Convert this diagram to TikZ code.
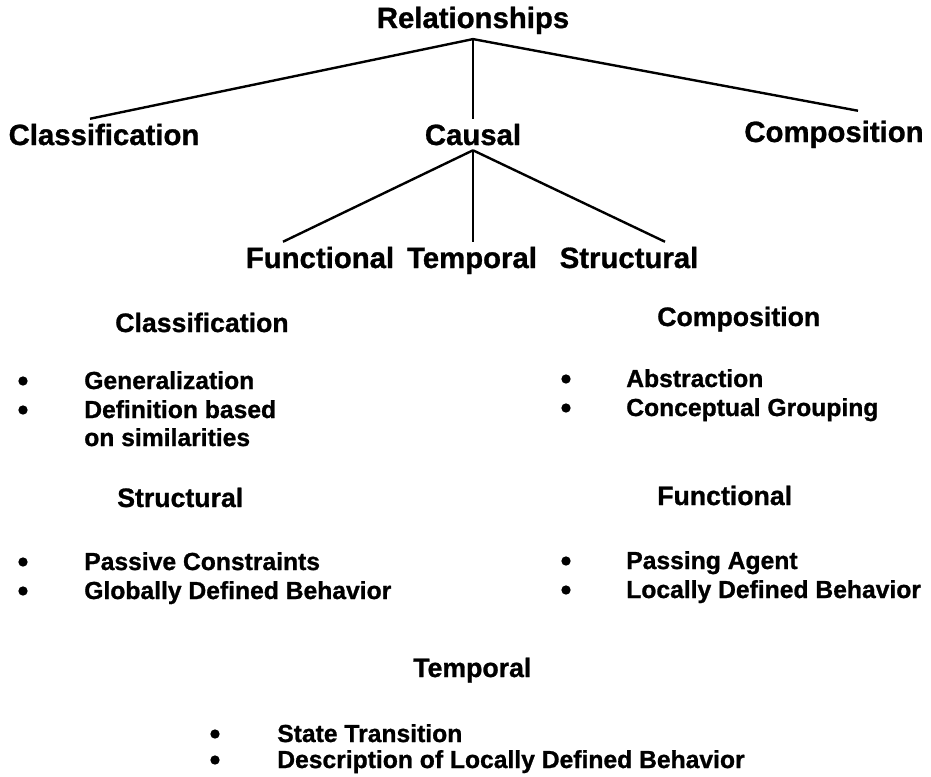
\documentclass[tikz,border=0pt]{standalone}
\usepackage{fontspec}
\setmainfont{Liberation Sans}[BoldFeatures={FakeBold=1}]
\usetikzlibrary{calc}

\begin{document}
\begin{tikzpicture}[
    x=0.75pt, y=-0.75pt,
    tree/.style={inner sep=0pt, outer sep=3.75pt, anchor=base, font=\fontsize{22}{24}\selectfont\bfseries},
    head/.style={inner sep=0pt, anchor=base west, font=\fontsize{20}{22}\selectfont\bfseries},
    item/.style={inner sep=0pt, anchor=base west, align=left, font=\fontsize{18.5}{21}\selectfont\bfseries},
    dot/.style={circle, fill, inner sep=0pt, minimum size=7pt},
    link/.style={line width=1.8pt},
]
\useasboundingbox (0,0) rectangle (931,776);

% ====== Tree ======
\node[tree] (rel) at (473, 28) {Relationships};
\node[tree] (cls) at (104, 145) {Classification};
\node[tree] (cau) at (473, 145) {Causal};
\node[tree] (com) at (834, 142) {Composition};
\node[tree] (fun) at (320, 268) {Functional};
\node[tree] (tem) at (472, 268) {Temporal};
\node[tree] (str) at (629, 268) {Structural};

\draw[link] (rel.south) -- ($(cls.north)+(-14,0)$);
\draw[link] (rel.south) -- (cau.north);
\draw[link] (rel.south) -- ($(com.north)+(24,-5)$);
\draw[link] (cau.south) -- ($(fun.north)+(-37,0)$);
\draw[link] (cau.south) -- ($(tem.north)+(1,0)$);
\draw[link] (cau.south) -- ($(str.north)+(36,0)$);

% ====== Classification ======
\node[head] (hCls) at (115, 332) {Classification};
\node[dot] (dCls1) at (23, 381) {};
\node[item] (iCls1) at (84, 389) {Generalization};
\node[dot] (dCls2) at (23, 410) {};
\node[item] (iCls2) at (84, 446) {Definition based\\on similarities};

% ====== Composition ======
\node[head] (hCom) at (657, 326) {Composition};
\node[dot] (dCom1) at (566, 379) {};
\node[item] (iCom1) at (626, 387) {Abstraction};
\node[dot] (dCom2) at (566, 408) {};
\node[item] (iCom2) at (626, 416) {Conceptual Grouping};

% ====== Structural ======
\node[head] (hStr) at (117, 507) {Structural};
\node[dot] (dStr1) at (23, 562) {};
\node[item] (iStr1) at (84, 570) {Passive Constraints};
\node[dot] (dStr2) at (23, 591) {};
\node[item] (iStr2) at (84, 599) {Globally Defined Behavior};

% ====== Functional ======
\node[head] (hFun) at (657, 505) {Functional};
\node[dot] (dFun1) at (566, 561) {};
\node[item] (iFun1) at (626, 569) {Passing Agent};
\node[dot] (dFun2) at (566, 590) {};
\node[item] (iFun2) at (626, 598) {Locally Defined Behavior};

% ====== Temporal ======
\node[head] (hTem) at (413, 677) {Temporal};
\node[dot] (dTem1) at (215, 734) {};
\node[item] (iTem1) at (277, 742) {State Transition};
\node[dot] (dTem2) at (215, 760) {};
\node[item] (iTem2) at (277, 768) {Description of Locally Defined Behavior};

\end{tikzpicture}
\end{document}
